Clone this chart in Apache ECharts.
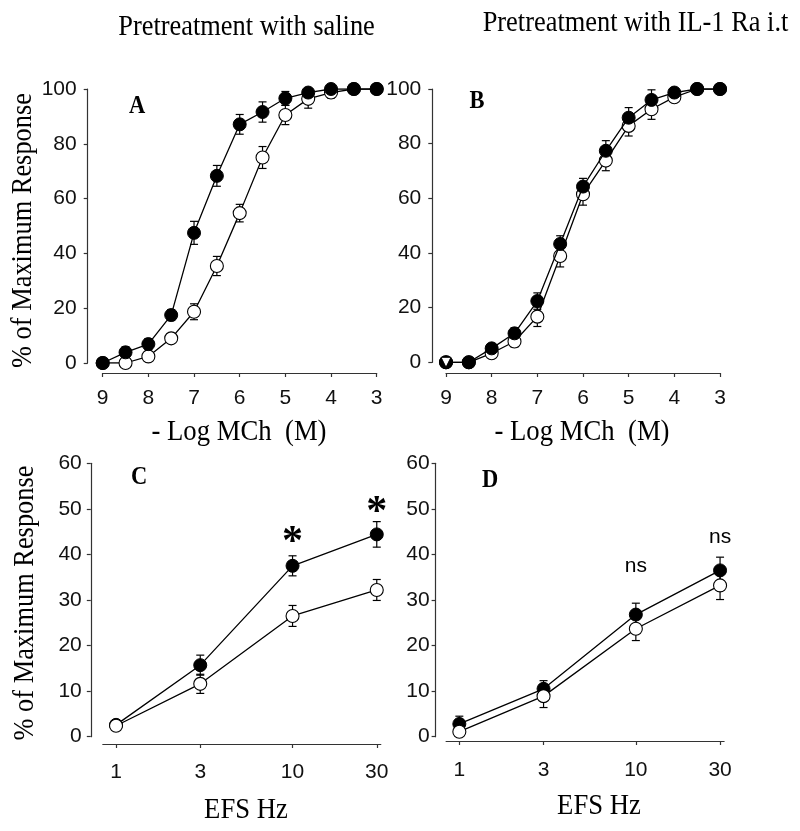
<!DOCTYPE html>
<html>
<head>
<meta charset="utf-8">
<script src="https://cdn.jsdelivr.net/npm/echarts@6/dist/echarts.min.js"></script>
<style>
html,body{margin:0;padding:0;background:#fff;}
#chart{width:800px;height:831px;}
</style>
</head>
<body>
<div id="chart"></div>
<script>
// ---------- DATA ----------
// Panels A & B: - Log MCh (M)
const mchX = [9, 8.5, 8, 7.5, 7, 6.5, 6, 5.5, 5, 4.5, 4, 3.5, 3];
const mchTicks = [9, 8, 7, 6, 5, 4, 3];
const aFilled    = [0, 3.9, 6.9, 17.5, 47.5, 68.3, 87.1, 91.6, 96.6, 98.7, 100, 100, 100];
const aFilledErr = [0, 2, 2, 2, 4.2, 3.8, 3.6, 3.7, 2.5, 1.5, 0.8, 0, 0];
const aOpen      = [0, 0, 2.4, 9, 18.7, 35.4, 54.7, 75, 90.5, 96.4, 98.7, 100, 100];
const aOpenErr   = [0, 0, 1, 1.5, 2.9, 3.5, 3.2, 4, 3.5, 3.4, 2, 0, 0];
const bFilled    = [0, 0, 5.1, 10.6, 22.4, 43.3, 64.3, 77.4, 89.5, 96, 98.7, 100, 100];
const bFilledErr = [0, 0, 1.5, 2, 3, 3, 3, 3.7, 3.7, 3.7, 1.5, 0, 0];
const bOpen      = [0, 0, 3.3, 7.6, 16.7, 38.9, 61.5, 73.8, 86.5, 92.6, 97, 100, 100];
const bOpenErr   = [0, 0, 1, 2, 3.6, 4, 4, 3.7, 3.7, 3.7, 1.5, 0, 0];
const yTicksAB = [0, 20, 40, 60, 80, 100];

// Panels C & D: EFS Hz (log scale)
const efsHz = [1, 3, 10, 30];
const cFilled    = [2.6, 15.7, 37.5, 44.4];
const cFilledErr = [0.5, 2.2, 2.2, 2.8];
const cOpen      = [2.4, 11.6, 26.5, 32.2];
const cOpenErr   = [0.5, 2.1, 2.3, 2.3];
const dFilled    = [2.8, 10.5, 26.8, 36.5];
const dFilledErr = [1.7, 1.8, 2.5, 2.9];
const dOpen      = [1.1, 8.9, 23.7, 33.2];
const dOpenErr   = [1.0, 2.5, 2.6, 3.1];
const yTicksCD = [0, 10, 20, 30, 40, 50, 60];

// annotations (Hz, % level, text)
const cMarks = [[10, 42.4, '*'], [30, 49.0, '*']];
const dMarks = [[10, 37.5, 'ns'], [30, 43.8, 'ns']];

// ---------- BUILD ----------
const efsLog = efsHz.map(v => Math.log10(v));
const SANS = '"Liberation Sans", Arial, sans-serif';
const SERIF = '"Liberation Serif", "Times New Roman", serif';
const AX = '#333';

function pairs(xs, ys) { return xs.map((x, i) => [x, ys[i]]); }

function lineSeries(xs, ys, gi, filled, z) {
  return {
    type: 'line', xAxisIndex: gi, yAxisIndex: gi, z: z,
    data: pairs(xs, ys),
    symbol: 'circle', symbolSize: 13, showAllSymbol: true,
    lineStyle: { color: '#000', width: 1.3 },
    itemStyle: filled ? { color: '#000', borderColor: '#000', borderWidth: 1, opacity: 1 }
                      : { color: '#fff', borderColor: '#000', borderWidth: 1.1, opacity: 1 },
    emphasis: { disabled: true }, animation: false, silent: true
  };
}

function errSeries(xs, ys, es, gi, z) {
  return {
    type: 'custom', xAxisIndex: gi, yAxisIndex: gi, z: z,
    data: xs.map((x, i) => [x, ys[i], es[i]]),
    encode: { x: 0, y: 1 },
    animation: false, silent: true,
    renderItem: function (params, api) {
      const x = api.value(0), y = api.value(1), e = api.value(2);
      if (!e) return null;
      const t = api.coord([x, y + e]), b = api.coord([x, y - e]);
      const cw = 4, st = { stroke: '#000', lineWidth: 1.2 };
      return { type: 'group', children: [
        { type: 'line', shape: { x1: t[0], y1: t[1], x2: b[0], y2: b[1] }, style: st },
        { type: 'line', shape: { x1: t[0] - cw, y1: t[1], x2: t[0] + cw, y2: t[1] }, style: st },
        { type: 'line', shape: { x1: b[0] - cw, y1: b[1], x2: b[0] + cw, y2: b[1] }, style: st }
      ] };
    }
  };
}

function annSeries(marks, gi, font, size, weight) {
  return {
    type: 'custom', xAxisIndex: gi, yAxisIndex: gi, z: 20,
    data: marks.map(m => [Math.log10(m[0]), m[1]]),
    encode: { x: 0, y: 1 },
    animation: false, silent: true,
    renderItem: function (params, api) {
      const p = api.coord([api.value(0), api.value(1)]);
      return { type: 'text', x: p[0], y: p[1],
        style: { text: marks[params.dataIndex][2], fontFamily: font, fontSize: size,
                 fontWeight: weight, fill: '#000', align: 'center', verticalAlign: 'middle' } };
    }
  };
}

const grids = [
  { left: 102.7, top: 89, width: 274, height: 274 },
  { left: 446, top: 89, width: 274, height: 273.3 },
  { left: 102.8, top: 463.3, width: 278, height: 273.4 },
  { left: 446.1, top: 463.3, width: 278, height: 273.4 }
];

function baseAxisStyle() {
  return {
    axisLine: { show: true, onZero: false, lineStyle: { color: AX, width: 1.2 } },
    axisTick: { show: true, inside: false, length: 4, lineStyle: { color: AX, width: 1.2 } },
    splitLine: { show: false }
  };
}

const xAxes = [
  Object.assign(baseAxisStyle(), { type: 'value', gridIndex: 0, inverse: true, min: 3, max: 9, interval: 1, offset: 10,
    axisLabel: { margin: 15, fontSize: 21, fontFamily: SANS, color: '#111' } }),
  Object.assign(baseAxisStyle(), { type: 'value', gridIndex: 1, inverse: true, min: 3, max: 9, interval: 1, offset: 10.7,
    axisLabel: { margin: 15, fontSize: 21, fontFamily: SANS, color: '#111' } }),
  Object.assign(baseAxisStyle(), { type: 'value', gridIndex: 2, min: -0.075, max: 1.5, offset: 7.3,
    axisLabel: { margin: 18, fontSize: 21, fontFamily: SANS, color: '#111', customValues: efsLog,
      formatter: v => String(Math.round(Math.pow(10, v))) } }),
  Object.assign(baseAxisStyle(), { type: 'value', gridIndex: 3, min: -0.075, max: 1.5, offset: 4.3,
    axisLabel: { margin: 19, fontSize: 21, fontFamily: SANS, color: '#111', customValues: efsLog,
      formatter: v => String(Math.round(Math.pow(10, v))) } })
];
xAxes[2].axisTick.customValues = efsLog;
xAxes[3].axisTick.customValues = efsLog;

const yAxes = [
  Object.assign(baseAxisStyle(), { type: 'value', gridIndex: 0, min: 0, max: 100, interval: 20, offset: 15,
    axisLabel: { margin: 11, fontSize: 21, fontFamily: SANS, color: '#111' } }),
  Object.assign(baseAxisStyle(), { type: 'value', gridIndex: 1, min: 0, max: 100, interval: 20, offset: 13.7,
    axisLabel: { margin: 11, fontSize: 21, fontFamily: SANS, color: '#111' } }),
  Object.assign(baseAxisStyle(), { type: 'value', gridIndex: 2, min: 0, max: 60, interval: 10, offset: 12,
    axisLabel: { margin: 9, fontSize: 21, fontFamily: SANS, color: '#111' } }),
  Object.assign(baseAxisStyle(), { type: 'value', gridIndex: 3, min: 0, max: 60, interval: 10, offset: 10.5,
    axisLabel: { margin: 6, fontSize: 21, fontFamily: SANS, color: '#111' } })
];

function txt(x, y, text, size, opts) {
  opts = opts || {};
  return {
    type: 'text', x: x, y: y, rotation: opts.rot || 0,
    scaleX: opts.sx || 1, scaleY: 1, silent: true, z: 50,
    style: { text: text, fontFamily: opts.font || SERIF, fontSize: size,
             fontWeight: opts.bold ? 'bold' : 'normal', fill: '#000',
             align: 'center', verticalAlign: 'middle' }
  };
}

const graphics = [
  txt(246.5, 27, 'Pretreatment with saline', 30, { sx: 0.88 }),
  txt(635.5, 23.3, 'Pretreatment with IL-1 Ra i.t', 30, { sx: 0.88 }),
  txt(23.5, 230.5, '% of Maximum Response', 30, { sx: 0.88, rot: Math.PI / 2 }),
  txt(25, 603, '% of Maximum Response', 30, { sx: 0.88, rot: Math.PI / 2 }),
  txt(239, 432, '- Log MCh  (M)', 30, { sx: 0.89 }),
  txt(582, 432, '- Log MCh  (M)', 30, { sx: 0.89 }),
  txt(246, 810, 'EFS Hz', 29, { sx: 0.92 }),
  txt(599, 806, 'EFS Hz', 29, { sx: 0.92 }),
  txt(137, 107, 'A', 25, { bold: true, sx: 0.9 }),
  txt(477, 102, 'B', 25, { bold: true, sx: 0.9 }),
  txt(139, 477.5, 'C', 25, { bold: true, sx: 0.9 }),
  txt(490, 480.5, 'D', 25, { bold: true, sx: 0.9 })
];

const series = [
  // A
  errSeries(mchX, aOpen, aOpenErr, 0, 2),
  errSeries(mchX, aFilled, aFilledErr, 0, 2),
  lineSeries(mchX, aOpen, 0, false, 3),
  lineSeries(mchX, aFilled, 0, true, 4),
  // B
  errSeries(mchX, bOpen, bOpenErr, 1, 2),
  errSeries(mchX, bFilled, bFilledErr, 1, 2),
  lineSeries(mchX, bOpen, 1, false, 3),
  lineSeries(mchX, bFilled, 1, true, 4),
  { type: 'scatter', xAxisIndex: 1, yAxisIndex: 1, z: 6, data: [[mchX[0], bOpen[0]]],
    symbol: 'triangle', symbolRotate: 180, symbolSize: 10,
    itemStyle: { color: '#fff', borderColor: '#000', borderWidth: 1, opacity: 1 }, silent: true, animation: false },
  // C
  errSeries(efsLog, cFilled, cFilledErr, 2, 2),
  errSeries(efsLog, cOpen, cOpenErr, 2, 2),
  lineSeries(efsLog, cFilled, 2, true, 3),
  lineSeries(efsLog, cOpen, 2, false, 4),
  annSeries(cMarks, 2, SERIF, 42, 'bold'),
  // D
  errSeries(efsLog, dFilled, dFilledErr, 3, 2),
  errSeries(efsLog, dOpen, dOpenErr, 3, 2),
  lineSeries(efsLog, dFilled, 3, true, 3),
  lineSeries(efsLog, dOpen, 3, false, 4),
  annSeries(dMarks, 3, SANS, 21, 'normal')
];

const chart = echarts.init(document.getElementById('chart'), null, { renderer: 'canvas' });
chart.setOption({
  backgroundColor: '#fff',
  animation: false,
  grid: grids,
  xAxis: xAxes,
  yAxis: yAxes,
  series: series,
  graphic: graphics
});
</script>
</body>
</html>
